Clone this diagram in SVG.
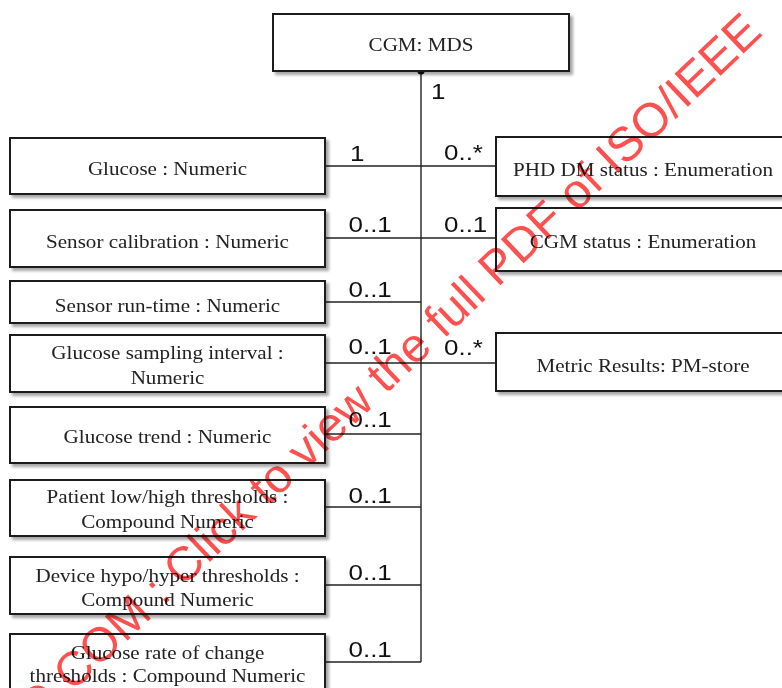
<svg xmlns="http://www.w3.org/2000/svg" width="782" height="688" viewBox="0 0 782 688">
<style>
.box{fill:#fff;stroke:#1a1a1a;stroke-width:2;filter:url(#sh)}
.nt{font-family:"Liberation Serif","Times New Roman",serif;font-size:19px;fill:#222;text-anchor:middle}
.lb{font-family:"Liberation Sans",Arial,sans-serif;font-size:22px;fill:#111}
.cn{stroke:#222;stroke-width:1.4;fill:none}
.wm{font-family:"Liberation Sans",Arial,sans-serif;font-size:48px;fill:#ff5050;mix-blend-mode:multiply}
</style>
<defs>
<filter id="sh" x="-5%" y="-10%" width="115%" height="135%">
<feDropShadow dx="3" dy="3" stdDeviation="1.8" flood-color="#000" flood-opacity="0.35"/>
</filter>
</defs>
<rect width="782" height="688" fill="#fff"/>
<g id="connectors">
<line class="cn" x1="421" y1="71" x2="421" y2="662"/>
<line class="cn" x1="325" y1="166" x2="496" y2="166"/>
<line class="cn" x1="325" y1="238" x2="496" y2="238"/>
<line class="cn" x1="325" y1="302" x2="421" y2="302"/>
<line class="cn" x1="325" y1="363" x2="496" y2="363"/>
<line class="cn" x1="325" y1="434" x2="421" y2="434"/>
<line class="cn" x1="325" y1="507" x2="421" y2="507"/>
<line class="cn" x1="325" y1="585" x2="421" y2="585"/>
<line class="cn" x1="325" y1="662" x2="421" y2="662"/>
<circle cx="421" cy="71" r="3.6" fill="#111"/>
<text class="lb" transform="translate(431,99) scale(1.18,1)">1</text>
<text class="lb" transform="translate(350,160.5) scale(1.18,1)">1</text>
<text class="lb" transform="translate(444,160) scale(1.18,1)">0..*</text>
<text class="lb" transform="translate(348.5,231.5) scale(1.18,1)">0..1</text>
<text class="lb" transform="translate(444,231.5) scale(1.18,1)">0..1</text>
<text class="lb" transform="translate(348.5,297) scale(1.18,1)">0..1</text>
<text class="lb" transform="translate(348.5,354) scale(1.18,1)">0..1</text>
<text class="lb" transform="translate(444,355) scale(1.18,1)">0..*</text>
<text class="lb" transform="translate(348.5,427) scale(1.18,1)">0..1</text>
<text class="lb" transform="translate(348.5,502.5) scale(1.18,1)">0..1</text>
<text class="lb" transform="translate(348.5,580) scale(1.18,1)">0..1</text>
<text class="lb" transform="translate(348.5,657) scale(1.18,1)">0..1</text>
</g>
<g id="cgm-mds">
<rect class="box" x="273" y="14" width="296" height="57"/>
<text class="nt" transform="translate(421,51) scale(1.11,1)">CGM: MDS</text>
</g>
<g id="glucose">
<rect class="box" x="10" y="138" width="315" height="56"/>
<text class="nt" transform="translate(167.5,175) scale(1.11,1)">Glucose : Numeric</text>
</g>
<g id="sensor-calibration">
<rect class="box" x="10" y="210" width="315" height="57"/>
<text class="nt" transform="translate(167.5,248) scale(1.11,1)">Sensor calibration : Numeric</text>
</g>
<g id="sensor-runtime">
<rect class="box" x="10" y="281" width="315" height="42"/>
<text class="nt" transform="translate(167.5,311.5) scale(1.11,1)">Sensor run-time : Numeric</text>
</g>
<g id="glucose-sampling">
<rect class="box" x="10" y="335" width="315" height="57"/>
<text class="nt" transform="translate(167.5,359) scale(1.11,1)">Glucose sampling interval :</text>
<text class="nt" transform="translate(167.5,383.5) scale(1.11,1)">Numeric</text>
</g>
<g id="glucose-trend">
<rect class="box" x="10" y="407" width="315" height="56"/>
<text class="nt" transform="translate(167.5,442.5) scale(1.11,1)">Glucose trend : Numeric</text>
</g>
<g id="patient-thresholds">
<rect class="box" x="10" y="480" width="315" height="56"/>
<text class="nt" transform="translate(167.5,503) scale(1.11,1)">Patient low/high thresholds :</text>
<text class="nt" transform="translate(167.5,528) scale(1.11,1)">Compound Numeric</text>
</g>
<g id="device-thresholds">
<rect class="box" x="10" y="557" width="315" height="57"/>
<text class="nt" transform="translate(167.5,581.5) scale(1.11,1)">Device hypo/hyper thresholds :</text>
<text class="nt" transform="translate(167.5,606) scale(1.11,1)">Compound Numeric</text>
</g>
<g id="glucose-rate">
<rect class="box" x="10" y="634" width="315" height="70"/>
<text class="nt" transform="translate(167.5,659) scale(1.11,1)">Glucose rate of change</text>
<text class="nt" transform="translate(167.5,682) scale(1.11,1)">thresholds : Compound Numeric</text>
</g>
<g id="phd-dm-status">
<rect class="box" x="496" y="137" width="294" height="59"/>
<text class="nt" transform="translate(643,176) scale(1.11,1)">PHD DM status : Enumeration</text>
</g>
<g id="cgm-status">
<rect class="box" x="496" y="208" width="294" height="63"/>
<text class="nt" transform="translate(643,248) scale(1.11,1)">CGM status : Enumeration</text>
</g>
<g id="metric-results">
<rect class="box" x="496" y="333" width="294" height="58"/>
<text class="nt" transform="translate(643,371.5) scale(1.11,1)">Metric Results: PM-store</text>
</g>
<text class="wm" transform="translate(3,759) rotate(-43.6)">ISO.COM : Click to view the full PDF of ISO/IEEE</text>
</svg>
